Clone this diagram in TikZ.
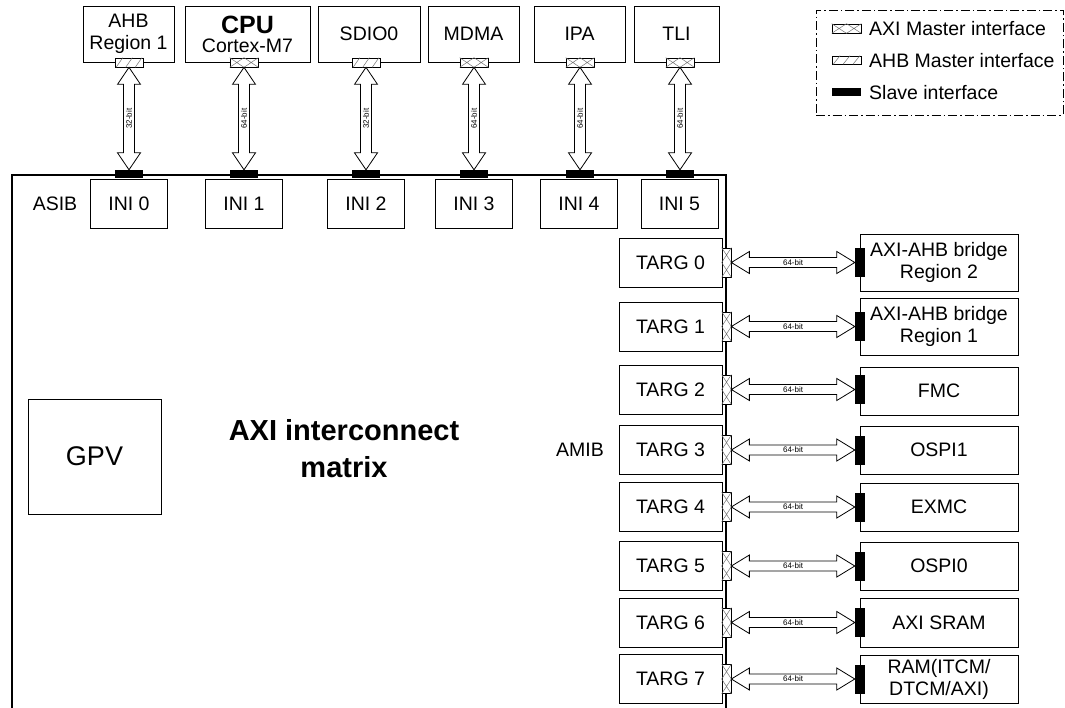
\documentclass[tikz,border=0pt]{standalone}
\usepackage{fontspec}
\setmainfont{Liberation Sans}
\usetikzlibrary{calc}

\tikzstyle{blk}=[draw, line width=0.9pt, inner sep=0pt, align=center, font=\fontsize{19.5}{22}\selectfont]
\tikzstyle{lbl}=[inner sep=0pt, font=\fontsize{19.5}{22}\selectfont]
\tikzstyle{mif}=[draw, line width=0.7pt, fill=white, inner sep=0pt, minimum width=28pt, minimum height=9pt]
\tikzstyle{sif}=[fill=black, inner sep=0pt, minimum width=28pt, minimum height=8pt]
\tikzstyle{hatch}=[line width=0.5pt, black!55]
\tikzstyle{bus}=[draw, line width=0.8pt, fill=white, line join=miter]
\tikzstyle{buslbl}=[inner sep=0pt, font=\fontsize{8}{8}\selectfont]

% fat double arrows between two named nodes
\newcommand{\vbus}[3]{%
  \draw[bus] (#1.south) -- ++(11.5,17) -- ++(-6,0) -- ($(#2.north)+(5.5,-17)$) -- ++(6,0)
    -- (#2.north) -- ++(-11.5,-17) -- ++(6,0) -- ($(#1.south)+(-5.5,17)$) -- ++(-6,0) -- cycle;
  \path (#1.south) -- (#2.north) node[midway, buslbl, rotate=90] {#3};}
\newcommand{\hbus}[3]{%
  \draw[bus] (#1.east) -- ++(18,-11) -- ++(0,6) -- ($(#2.west)+(-18,-5)$) -- ++(0,-6)
    -- (#2.west) -- ++(-18,11) -- ++(0,-6) -- ($(#1.east)+(18,5)$) -- ++(0,6) -- cycle;
  \path (#1.east) -- (#2.west) node[midway, buslbl] {#3};}
% interface hatching
\newcommand{\axih}[1]{\draw[hatch] (#1.south west) -- (#1.north) -- (#1.south east)
  (#1.north west) -- (#1.south) -- (#1.north east);}
\newcommand{\axiv}[1]{\draw[hatch] (#1.north west) -- (#1.east) -- (#1.south west)
  (#1.north east) -- (#1.west) -- (#1.south east);}
\newcommand{\ahbh}[1]{\foreach \k in {0,1,2}
  \draw[hatch] ($(#1.south west)!{(\k+0.15)/3}!(#1.south east)$) -- ($(#1.north west)!{(\k+0.85)/3}!(#1.north east)$);}

\begin{document}
\begin{tikzpicture}[x=1pt, y=-1pt]
  \useasboundingbox (0,0) rectangle (1065,708);

  % masters
  \node[blk, minimum width=91pt, minimum height=56pt] (ahb) at (128.5,34) {AHB\\Region 1};
  \node[blk, minimum width=125pt, minimum height=56pt] (cpu) at (247.5,34) {{\fontsize{25}{25}\selectfont\bfseries CPU}\\[-3pt]Cortex-M7};
  \node[blk, minimum width=102pt, minimum height=56pt] (sdio) at (369,34) {SDIO0};
  \node[blk, minimum width=91pt, minimum height=56pt] (mdma) at (473.5,34) {MDMA};
  \node[blk, minimum width=91pt, minimum height=56pt] (ipa) at (579.5,34) {IPA};
  \node[blk, minimum width=85pt, minimum height=56pt] (tli) at (676.5,34) {TLI};

  \node[mif] (m0) at (129,62.5) {}; \ahbh{m0}
  \node[mif] (m1) at (244,62.5) {}; \axih{m1}
  \node[mif] (m2) at (366,62.5) {}; \ahbh{m2}
  \node[mif] (m3) at (474,62.5) {}; \axih{m3}
  \node[mif] (m4) at (580,62.5) {}; \axih{m4}
  \node[mif] (m5) at (680,62.5) {}; \axih{m5}

  % interconnect matrix
  \draw[line width=2pt] (12,712) |- (725.5,175) -- (725.5,712);
  \node[lbl] (asib) at (55,204) {ASIB};
  \node[lbl] (amib) at (580,450) {AMIB};
  \node[blk, font=\fontsize{27}{27}\selectfont, minimum width=133pt, minimum height=115pt] (gpv) at (94.5,456.5) {GPV};
  \node[align=center, inner sep=0pt, font=\bfseries\fontsize{29}{37}\selectfont] (title) at (344,449) {AXI interconnect\\matrix};

  \node[blk, minimum width=77pt, minimum height=49pt] (ini0) at (129,203.5) {INI 0};
  \node[blk, minimum width=77pt, minimum height=49pt] (ini1) at (244,203.5) {INI 1};
  \node[blk, minimum width=77pt, minimum height=49pt] (ini2) at (366,203.5) {INI 2};
  \node[blk, minimum width=77pt, minimum height=49pt] (ini3) at (474,203.5) {INI 3};
  \node[blk, minimum width=77pt, minimum height=49pt] (ini4) at (579,203.5) {INI 4};
  \node[blk, minimum width=77pt, minimum height=49pt] (ini5) at (679.5,203.5) {INI 5};

  \node[sif] (s0) at (129,174) {};
  \node[sif] (s1) at (244,174) {};
  \node[sif] (s2) at (366,174) {};
  \node[sif] (s3) at (474,174) {};
  \node[sif] (s4) at (580,174) {};
  \node[sif] (s5) at (680,174) {};

  \vbus{m0}{s0}{32-bit}
  \vbus{m1}{s1}{64-bit}
  \vbus{m2}{s2}{32-bit}
  \vbus{m3}{s3}{64-bit}
  \vbus{m4}{s4}{64-bit}
  \vbus{m5}{s5}{64-bit}

  % targets
  \node[blk, minimum width=103pt, minimum height=49pt] (targ0) at (670.5,262.5) {TARG 0};
  \node[blk, minimum width=103pt, minimum height=49pt] (targ1) at (670.5,326.5) {TARG 1};
  \node[blk, minimum width=103pt, minimum height=49pt] (targ2) at (670.5,389.5) {TARG 2};
  \node[blk, minimum width=103pt, minimum height=49pt] (targ3) at (670.5,450) {TARG 3};
  \node[blk, minimum width=103pt, minimum height=49pt] (targ4) at (670.5,507) {TARG 4};
  \node[blk, minimum width=103pt, minimum height=49pt] (targ5) at (670.5,566) {TARG 5};
  \node[blk, minimum width=103pt, minimum height=49pt] (targ6) at (670.5,622.5) {TARG 6};
  \node[blk, minimum width=103pt, minimum height=49pt] (targ7) at (670.5,679) {TARG 7};

  \node[mif, minimum width=9pt, minimum height=29pt] (mt0) at (726.5,262.5) {}; \axiv{mt0}
  \node[mif, minimum width=9pt, minimum height=29pt] (mt1) at (726.5,326.5) {}; \axiv{mt1}
  \node[mif, minimum width=9pt, minimum height=29pt] (mt2) at (726.5,389.5) {}; \axiv{mt2}
  \node[mif, minimum width=9pt, minimum height=29pt] (mt3) at (726.5,450) {}; \axiv{mt3}
  \node[mif, minimum width=9pt, minimum height=29pt] (mt4) at (726.5,507) {}; \axiv{mt4}
  \node[mif, minimum width=9pt, minimum height=29pt] (mt5) at (726.5,566) {}; \axiv{mt5}
  \node[mif, minimum width=9pt, minimum height=29pt] (mt6) at (726.5,622.5) {}; \axiv{mt6}
  \node[mif, minimum width=9pt, minimum height=29pt] (mt7) at (726.5,679) {}; \axiv{mt7}

  % slaves
  \node[blk, minimum width=158pt, minimum height=57pt] (br2) at (939,262.5) {AXI-AHB bridge\\Region 2};
  \node[blk, minimum width=158pt, minimum height=57pt] (br1) at (939,326.5) {AXI-AHB bridge\\Region 1};
  \node[blk, minimum width=158pt, minimum height=48pt] (fmc) at (939,391) {FMC};
  \node[blk, minimum width=158pt, minimum height=48pt] (ospi1) at (939,450) {OSPI1};
  \node[blk, minimum width=158pt, minimum height=48pt] (exmc) at (939,507) {EXMC};
  \node[blk, minimum width=158pt, minimum height=48pt] (ospi0) at (939,566) {OSPI0};
  \node[blk, minimum width=158pt, minimum height=49pt] (sram) at (939,622.5) {AXI SRAM};
  \node[blk, minimum width=158pt, minimum height=48pt] (ram) at (939,679.5) {RAM(ITCM/\\DTCM/AXI)};

  \node[sif, minimum width=10pt, minimum height=29pt] (st0) at (860,262.5) {};
  \node[sif, minimum width=10pt, minimum height=29pt] (st1) at (860,326.5) {};
  \node[sif, minimum width=10pt, minimum height=29pt] (st2) at (860,389.5) {};
  \node[sif, minimum width=10pt, minimum height=29pt] (st3) at (860,450) {};
  \node[sif, minimum width=10pt, minimum height=29pt] (st4) at (860,507) {};
  \node[sif, minimum width=10pt, minimum height=29pt] (st5) at (860,566) {};
  \node[sif, minimum width=10pt, minimum height=29pt] (st6) at (860,622.5) {};
  \node[sif, minimum width=10pt, minimum height=29pt] (st7) at (860,679) {};

  \hbus{mt0}{st0}{64-bit}
  \hbus{mt1}{st1}{64-bit}
  \hbus{mt2}{st2}{64-bit}
  \hbus{mt3}{st3}{64-bit}
  \hbus{mt4}{st4}{64-bit}
  \hbus{mt5}{st5}{64-bit}
  \hbus{mt6}{st6}{64-bit}
  \hbus{mt7}{st7}{64-bit}

  % legend
  \node[draw, line width=0.8pt, dash pattern=on 9pt off 3pt on 1.5pt off 3pt, minimum width=247pt, minimum height=105pt, inner sep=0pt] (legend) at (939.5,62.5) {};
  \node[mif, minimum width=29pt] (laxi) at (846.5,28.5) {}; \axih{laxi}
  \node[mif, minimum width=29pt, minimum height=8pt] (lahb) at (846.5,60) {}; \ahbh{lahb}
  \node[sif, minimum width=29pt] (lslv) at (846.5,92) {};
  \node[lbl, anchor=west] (taxi) at (869,29) {AXI Master interface};
  \node[lbl, anchor=west] (tahb) at (869,61) {AHB Master interface};
  \node[lbl, anchor=west] (tslv) at (869,92.5) {Slave interface};
\end{tikzpicture}
\end{document}
